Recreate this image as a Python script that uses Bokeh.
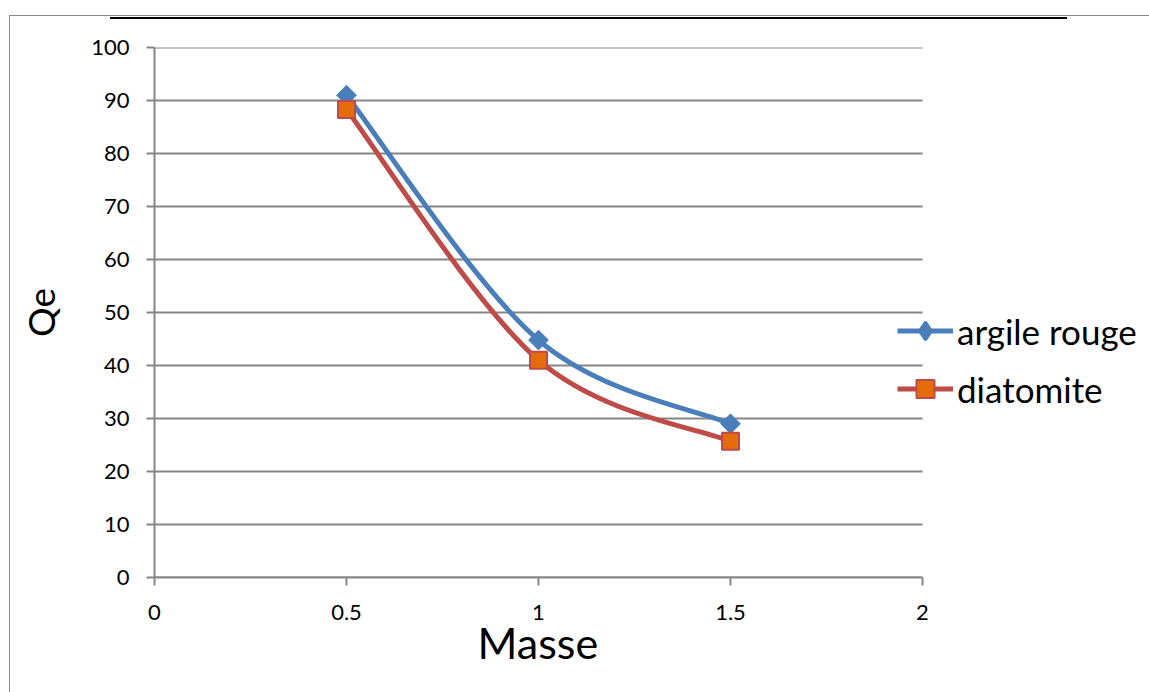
import math
from bokeh.plotting import figure
from bokeh.models import (Legend, LegendItem, FixedTicker, Title,
                          CustomJSTickFormatter, Range1d)
from bokeh.embed import file_html
from bokeh.resources import INLINE

masse = [0.5, 1.0, 1.5]
argile_rouge = [91.0, 44.8, 29.0]
diatomite = [88.3, 41.0, 25.7]
series_names = ["argile rouge", "diatomite"]
x_ticks = [0, 0.5, 1, 1.5, 2]
y_ticks = list(range(0, 101, 10))
x_min, x_max = 0, 2
y_min, y_max = 0, 100
x_title = "Masse"
y_title = "Qe"

FONT = "Lato"
BLUE = "#4A7EBB"
RED = "#BE4B48"
ORANGE = "#E46C0A"
GRAY = "#868686"

W, H = 1149, 692
LEFT, TOP, BOTTOM = 154, 47, 115
AXIS_PX = 768  # pixel length of the 0..2 x axis
FRAME_W = W - LEFT


def smooth_segments(xs, ys):
    """Excel-style smoothed-line Bezier control points derived from the data."""
    n = len(xs)
    px = [xs[0]] + list(xs) + [xs[-1]]
    py = [ys[0]] + list(ys) + [ys[-1]]
    out = dict(x0=[], y0=[], x1=[], y1=[], cx0=[], cy0=[], cx1=[], cy1=[])
    for i in range(n - 1):
        a, b, c, d = i, i + 1, i + 2, i + 3
        out["x0"].append(px[b]); out["y0"].append(py[b])
        out["x1"].append(px[c]); out["y1"].append(py[c])
        out["cx0"].append(px[b] + (px[c] - px[a]) / 6.0)
        out["cy0"].append(py[b] + (py[c] - py[a]) / 6.0)
        out["cx1"].append(px[c] - (px[d] - px[b]) / 6.0)
        out["cy1"].append(py[c] - (py[d] - py[b]) / 6.0)
    return out


bg = ("linear-gradient(#868686,#868686) no-repeat 9px 15px / 1px 677px, "
      "linear-gradient(#868686,#868686) no-repeat 9px 15px / 1140px 1px, "
      "linear-gradient(#000,#000) no-repeat 110px 17px / 957px 2px, white")

p = figure(frame_width=FRAME_W, frame_height=H - TOP - BOTTOM, output_backend="svg",
           toolbar_location=None,
           x_range=Range1d(x_min, x_min + (x_max - x_min) * FRAME_W / AXIS_PX),
           y_range=Range1d(y_min, y_max),
           min_border_left=LEFT, min_border_right=0, min_border_top=TOP,
           min_border_bottom=BOTTOM, styles={"background": bg})
p.outline_line_color = None
p.background_fill_alpha = 0
p.border_fill_alpha = 0

# axes
p.xaxis.ticker = FixedTicker(ticks=x_ticks)
p.xaxis.formatter = CustomJSTickFormatter(code="return tick.toString();")
p.xaxis.bounds = (x_min, x_max)
p.yaxis.ticker = FixedTicker(ticks=y_ticks)
for ax in (p.xaxis[0], p.yaxis[0]):
    ax.axis_line_color = GRAY
    ax.axis_line_width = 2
    ax.major_tick_line_color = GRAY
    ax.major_tick_line_width = 2
    ax.major_tick_in = 0
    ax.major_tick_out = 8
    ax.minor_tick_line_color = None
    ax.major_label_text_font = FONT
    ax.major_label_text_font_size = "22px"
    ax.major_label_text_color = "black"
    ax.axis_label_text_font = FONT
    ax.axis_label_text_font_style = "normal"
    ax.axis_label_text_color = "black"
p.xaxis.major_label_standoff = 19
p.yaxis.major_label_standoff = 17
p.yaxis.axis_label = y_title
p.yaxis.axis_label_text_font_size = "37px"
p.yaxis.axis_label_standoff = 25

# x axis title centred under the 0..2 axis
p.add_layout(Title(text=x_title, align="left", offset=AXIS_PX / 2 - 61,
                   text_font=FONT, text_font_size="43px", text_font_style="normal",
                   text_color="black", standoff=-16), "below")

# horizontal gridlines limited to the x axis extent
p.xgrid.grid_line_color = None
p.ygrid.grid_line_color = None
p.segment(x0=[x_min] * len(y_ticks), x1=[x_max] * len(y_ticks), y0=y_ticks,
          y1=y_ticks, line_color=GRAY, line_width=2)

# series
s1 = smooth_segments(masse, argile_rouge)
s2 = smooth_segments(masse, diatomite)
p.bezier(x0="x0", y0="y0", x1="x1", y1="y1", cx0="cx0", cy0="cy0", cx1="cx1",
         cy1="cy1", source=s1, line_color=BLUE, line_width=5)
p.bezier(x0="x0", y0="y0", x1="x1", y1="y1", cx0="cx0", cy0="cy0", cx1="cx1",
         cy1="cy1", source=s2, line_color=RED, line_width=5)
p.scatter(masse, argile_rouge, marker="square", angle=math.pi / 4, size=14,
          fill_color=BLUE, line_color=BLUE, line_width=1)
m2 = p.scatter(masse, diatomite, marker="square", size=17, fill_color=ORANGE,
               line_color=RED, line_width=2)

# legend glyph proxies (line + marker), drawn off-range
off = [y_max * 3]
l1 = p.line([x_min, x_min], off * 2, line_color=BLUE, line_width=5)
d1 = p.scatter([x_min], off, marker="diamond", size=10, fill_color=BLUE,
               line_color=BLUE, line_width=3)
l2 = p.line([x_min, x_min], off * 2, line_color=RED, line_width=5)
legend = Legend(items=[LegendItem(label=series_names[0], renderers=[l1, d1]),
                       LegendItem(label=series_names[1], renderers=[l2, m2])],
                location=(743, 166), padding=0, margin=0, spacing=13,
                glyph_width=56, glyph_height=45, label_height=30,
                label_standoff=4, label_text_font=FONT,
                label_text_font_size="35px", label_text_color="black",
                background_fill_alpha=0, border_line_color=None)
p.add_layout(legend, "center")

open("out.html", "w").write(file_html(p, INLINE))
